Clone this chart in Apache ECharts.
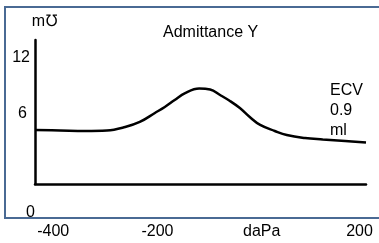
<!DOCTYPE html>
<html>
<head>
<meta charset="utf-8">
<script src="https://cdn.jsdelivr.net/npm/echarts@6/dist/echarts.min.js"></script>
<style>
  html, body { margin: 0; padding: 0; background: #fff; }
  #main { width: 379px; height: 243px; }
</style>
</head>
<body>
<div id="main"></div>
<script>
// pressure (daPa) and admittance (mmho)
var pressure = [-435, -387, -339, -297, -262, -234, -205, -186, -167, -147, -120, -99, -80, -61, -42, -23, -3, 25, 48, 83, 117, 160, 200];
var admittance = [4.5, 4.46, 4.42, 4.46, 4.75, 5.17, 5.92, 6.42, 7.0, 7.58, 7.96, 7.88, 7.42, 6.92, 6.33, 5.58, 4.92, 4.42, 4.08, 3.83, 3.71, 3.58, 3.46];
var xTicks = [-400, -200, 0, 200];
var yTicks = [0, 6, 12];
var ecv = '0.9';

var font = 'Liberation Sans, Arial, sans-serif';
var myChart = echarts.init(document.getElementById('main'));

var option = {
    animation: false,
    title: {
        text: 'Admittance Y',
        left: 163,
        top: 25,
        padding: 0,
        textStyle: { fontFamily: font, fontSize: 16, fontWeight: 'normal', color: '#000' }
    },
    grid: { left: 35, right: 13, top: 40, bottom: 59 },
    xAxis: {
        type: 'value',
        min: -435,
        max: 200,
        axisLine: { onZero: false, lineStyle: { color: '#000', width: 2.5 } },
        axisTick: { show: false },
        splitLine: { show: false },
        axisLabel: {
            customValues: xTicks,
            margin: 40,
            fontFamily: font,
            fontSize: 16,
            color: '#000',
            formatter: function (v) {
                if (v === 0) return '{x|daPa}';
                if (v === 200) return '{xe|' + v + '}';
                return '{x|' + v + '}';
            },
            rich: {
                x: { fontFamily: font, fontSize: 16, color: '#000' },
                xe: { fontFamily: font, fontSize: 16, color: '#000', padding: [0, 13, 0, 0] }
            }
        }
    },
    yAxis: {
        type: 'value',
        min: 0,
        max: 12,
        name: 'm℧',
        nameLocation: 'end',
        nameGap: 10,
        nameTextStyle: { fontFamily: font, fontSize: 16, color: '#000', padding: [0, 0, 0, 19] },
        axisLine: { onZero: false, lineStyle: { color: '#000', width: 2.5 } },
        axisTick: { show: false },
        splitLine: { show: false },
        axisLabel: {
            customValues: yTicks,
            margin: 0,
            fontFamily: font,
            fontSize: 16,
            color: '#000',
            formatter: function (v) { return '{y' + v + '|' + v + '}'; },
            rich: {
                y0: { fontFamily: font, fontSize: 16, color: '#000', padding: [57, 0, 0, 0] },
                y6: { fontFamily: font, fontSize: 16, color: '#000', padding: [4, 8, 0, 0] },
                y12: { fontFamily: font, fontSize: 16, color: '#000', padding: [35, 5, 0, 0] }
            }
        }
    },
    graphic: [
        {
            type: 'rect',
            shape: { x: 5, y: 7, width: 380, height: 211 },
            style: { fill: 'none', stroke: '#4a6a94', lineWidth: 2 },
            silent: true
        },
        {
            type: 'text',
            left: 330,
            top: 81,
            style: {
                text: 'ECV\n' + ecv + '\nml',
                font: '16px ' + font,
                lineHeight: 20,
                fill: '#000'
            }
        }
    ],
    series: [
        {
            type: 'line',
            data: pressure.map(function (p, i) { return [p, admittance[i]]; }),
            smooth: 0.4,
            showSymbol: false,
            lineStyle: { color: '#000', width: 2.5 }
        }
    ]
};

myChart.setOption(option);
</script>
</body>
</html>
